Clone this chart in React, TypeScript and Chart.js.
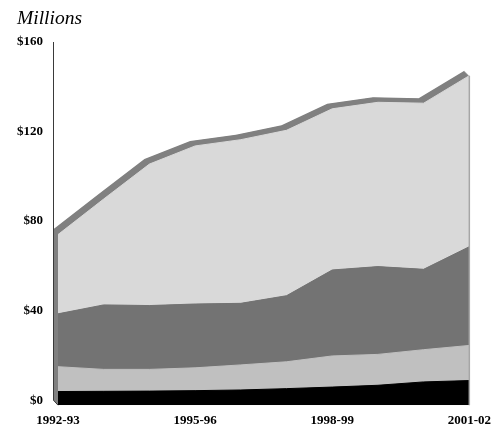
import React, { useEffect, useRef } from "react";
import { Chart, registerables } from "chart.js";

Chart.register(...registerables);

const categories = ["1992-93", "1993-94", "1994-95", "1995-96", "1996-97", "1997-98", "1998-99", "1999-00", "2000-01", "2001-02"];
const seriesBlack = [6.1, 6.2, 6.3, 6.5, 6.8, 7.4, 8.1, 8.9, 10.4, 11.0];
const seriesLightGray = [11.1, 9.8, 9.7, 10.2, 11.2, 12.0, 13.9, 13.8, 14.4, 15.7];
const seriesDarkGray = [23.6, 28.8, 28.5, 28.5, 27.5, 29.5, 38.4, 39.2, 35.9, 44.1];
const seriesTop = [35.4, 47.3, 63.2, 70.6, 73.1, 73.9, 72.0, 73.4, 74.2, 76.4];
const yTicks = [0, 40, 80, 120, 160];

const DEPTH = 5;
const SERIF = "'Liberation Serif', 'Times New Roman', serif";

const depthPlugin = {
  id: "depth3d",
  beforeDatasetsDraw(chart: any) {
    const { ctx, chartArea } = chart;
    const x = chart.scales.x;
    const y = chart.scales.y;
    const totals = categories.map((_, i) => seriesBlack[i] + seriesLightGray[i] + seriesDarkGray[i] + seriesTop[i]);
    const n = categories.length;
    ctx.save();
    ctx.fillStyle = "#808080";
    for (let k = 0.5; k <= DEPTH; k += 0.5) {
      ctx.beginPath();
      totals.forEach((t, i) => {
        const px = x.getPixelForValue(i) - k;
        const py = y.getPixelForValue(t) - k;
        if (i === 0) ctx.moveTo(px, py);
        else ctx.lineTo(px, py);
      });
      ctx.lineTo(x.getPixelForValue(n - 1) - k, y.getPixelForValue(0) - k);
      ctx.lineTo(x.getPixelForValue(0) - k, y.getPixelForValue(0) - k);
      ctx.closePath();
      ctx.fill();
    }
    // back axis line
    const bx = chartArea.left - DEPTH + 0.5;
    ctx.strokeStyle = "#3a3a3a";
    ctx.lineWidth = 1;
    ctx.beginPath();
    ctx.moveTo(bx, y.getPixelForValue(yTicks[yTicks.length - 1]) - DEPTH);
    ctx.lineTo(bx, y.getPixelForValue(0) - DEPTH);
    ctx.lineTo(chartArea.left, y.getPixelForValue(0));
    ctx.stroke();
    ctx.restore();
  },
  afterDatasetsDraw(chart: any) {
    const { ctx } = chart;
    const x = chart.scales.x;
    const y = chart.scales.y;
    const n = categories.length;
    const last = seriesBlack[n - 1] + seriesLightGray[n - 1] + seriesDarkGray[n - 1] + seriesTop[n - 1];
    const rx = x.getPixelForValue(n - 1);
    ctx.save();
    ctx.strokeStyle = "#a6a6a6";
    ctx.lineWidth = 1.5;
    ctx.beginPath();
    ctx.moveTo(rx, y.getPixelForValue(last));
    ctx.lineTo(rx, y.getPixelForValue(0));
    ctx.stroke();
    ctx.restore();
  },
};

export default function App() {
  const canvasRef = useRef<HTMLCanvasElement | null>(null);

  useEffect(() => {
    const canvas = canvasRef.current;
    if (!canvas) return;
    const mk = (label: string, data: number[], color: string, fill: any) => ({
      label,
      data,
      backgroundColor: color,
      borderColor: color,
      borderWidth: 1,
      pointRadius: 0,
      tension: 0,
      fill,
    });
    const chart = new Chart(canvas, {
      type: "line",
      data: {
        labels: categories,
        datasets: [
          mk("Series 1", seriesBlack, "#000000", "origin"),
          mk("Series 2", seriesLightGray, "#c0c0c0", "-1"),
          mk("Series 3", seriesDarkGray, "#737373", "-1"),
          mk("Series 4", seriesTop, "#d9d9d9", "-1"),
        ],
      },
      options: {
        animation: false,
        responsive: false,
        maintainAspectRatio: false,
        layout: { padding: { left: 17, right: 25, top: 0, bottom: 0 } },
        plugins: {
          legend: { display: false },
          tooltip: { enabled: false },
          title: {
            display: true,
            text: "Millions",
            align: "start",
            color: "#000",
            font: { family: SERIF, size: 19.5, style: "italic", weight: "normal", lineHeight: 1.2 },
            padding: { top: 7, bottom: 16.6 },
          },
        },
        scales: {
          x: {
            type: "category",
            offset: false,
            grid: { display: false, drawTicks: false },
            border: { display: false },
            ticks: {
              autoSkip: false,
              maxRotation: 0,
              minRotation: 0,
              padding: 8,
              color: "#000",
              font: { family: SERIF, size: 13, weight: "bold" },
              callback: (_v: any, idx: number) => (idx % 3 === 0 ? categories[idx] : ""),
            },
            afterFit: (scale: any) => {
              scale.height = 21;
            },
          },
          y: {
            stacked: true,
            min: 0,
            max: 160,
            grid: { display: false, drawTicks: false },
            border: { display: false },
            afterBuildTicks: (scale: any) => {
              scale.ticks = yTicks.map((v) => ({ value: v }));
            },
            ticks: {
              padding: 15,
              labelOffset: -DEPTH,
              color: "#000",
              font: { family: SERIF, size: 13, weight: "bold" },
              callback: (v: any) => "$" + v,
            },
            afterFit: (scale: any) => {
              scale.width = 41;
            },
          },
        },
      },
      plugins: [depthPlugin],
    } as any);
    return () => chart.destroy();
  }, []);

  return (
    <div style={{ position: "fixed", left: 0, top: 0, width: 499, height: 428, background: "#fff" }}>
      <canvas ref={canvasRef} width={499} height={428} style={{ display: "block", width: 499, height: 428 }} />
    </div>
  );
}
